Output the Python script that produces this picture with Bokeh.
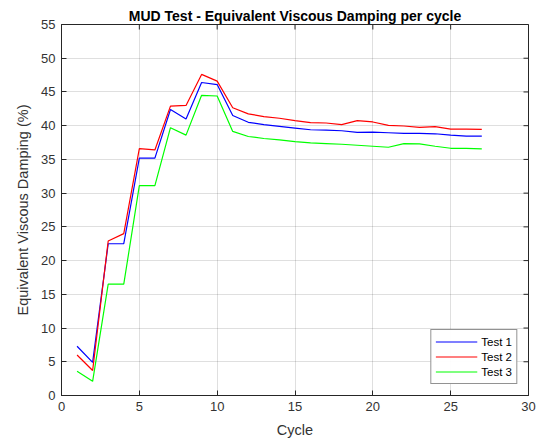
import math
from bokeh.plotting import figure
from bokeh.models import FixedTicker, Legend, LegendItem, Range1d
from bokeh.embed import file_html
from bokeh.resources import INLINE

cycles = list(range(1, 28))
test1 = [7.3, 4.9, 22.5, 22.5, 35.2, 35.2, 42.4, 41.0, 46.4, 46.1,
         41.5, 40.5, 40.15, 39.9, 39.65, 39.4, 39.35, 39.25, 39.0, 39.05,
         38.95, 38.85, 38.85, 38.8, 38.6, 38.45, 38.45]
test2 = [6.0, 3.7, 22.9, 24.0, 36.6, 36.4, 42.9, 43.0, 47.6, 46.6,
         42.65, 41.75, 41.35, 41.1, 40.75, 40.45, 40.4, 40.15, 40.75, 40.55,
         40.05, 39.95, 39.75, 39.85, 39.5, 39.5, 39.45]
test3 = [3.6, 2.1, 16.5, 16.5, 31.1, 31.1, 39.7, 38.6, 44.5, 44.4,
         39.15, 38.4, 38.1, 37.9, 37.65, 37.45, 37.35, 37.25, 37.1, 36.95,
         36.8, 37.35, 37.3, 36.95, 36.65, 36.65, 36.55]
series_names = ["Test 1", "Test 2", "Test 3"]
series_colors = ["#0000ff", "#ff0000", "#00ff00"]
x_ticks = [0, 5, 10, 15, 20, 25, 30]
y_ticks = [0, 5, 10, 15, 20, 25, 30, 35, 40, 45, 50, 55]
x_lo, x_hi = 0, 30
y_lo, y_hi = 0, 55

FONT = "Liberation Sans"
DARK = "#262626"

p = figure(width=544, height=447, output_backend="svg", toolbar_location=None,
           x_range=Range1d(x_lo, x_hi), y_range=Range1d(y_lo, y_hi),
           title="MUD Test - Equivalent Viscous Damping per cycle",
           min_border_left=61, min_border_right=16, min_border_top=24,
           min_border_bottom=52, background_fill_color="white",
           border_fill_color="white")
p.title.align = "center"
p.title.text_font = FONT
p.title.text_font_size = "14px"
p.title.text_font_style = "bold"
p.title.text_color = "#000000"
p.title.offset = 0
p.title.standoff = 2

p.outline_line_color = DARK
p.outline_line_width = 1

p.xaxis.ticker = FixedTicker(ticks=x_ticks)
p.yaxis.ticker = FixedTicker(ticks=y_ticks)
for ax in (p.xaxis[0], p.yaxis[0]):
    ax.major_tick_in = 5
    ax.major_tick_out = 0
    ax.minor_tick_in = 0
    ax.minor_tick_out = 0
    ax.axis_line_color = DARK
    ax.major_tick_line_color = DARK
    ax.major_label_text_font = FONT
    ax.major_label_text_font_size = "13px"
    ax.major_label_text_color = "#333333"
    ax.axis_label_text_font = FONT
    ax.axis_label_text_font_size = "14.5px"
    ax.axis_label_text_font_style = "normal"
    ax.axis_label_text_color = "#333333"
p.xaxis.axis_label = "Cycle"
p.yaxis.axis_label = "Equivalent Viscous Damping (%)"
p.xaxis.major_label_standoff = 6
p.yaxis.major_label_standoff = 6
p.xaxis.axis_label_standoff = 8
p.yaxis.axis_label_standoff = 7

# inward box ticks on the top and right edges (clipped to the frame)
p.scatter(x_ticks, [y_hi] * len(x_ticks), marker="dash", angle=math.pi / 2,
          size=10, line_color=DARK, line_width=1)
p.scatter([x_hi] * len(y_ticks), y_ticks, marker="dash", angle=0,
          size=10, line_color=DARK, line_width=1)

p.grid.grid_line_color = DARK
p.grid.grid_line_alpha = 0.15

items = []
for name, vals, col in zip(series_names, [test1, test2, test3], series_colors):
    r = p.line(cycles, vals, line_color=col, line_width=1.2)
    items.append(LegendItem(label=name, renderers=[r]))

legend = Legend(items=items, location="bottom_right")
legend.glyph_width = 42
legend.glyph_height = 15
legend.label_height = 15
legend.label_standoff = 4
legend.spacing = 0
legend.padding = 4
legend.margin = 11
legend.label_text_font = FONT
legend.label_text_font_size = "11.5px"
legend.label_text_color = "#000000"
legend.border_line_color = DARK
legend.border_line_width = 1
legend.background_fill_color = "white"
p.add_layout(legend)

open("out.html", "w").write(file_html(p, INLINE))
